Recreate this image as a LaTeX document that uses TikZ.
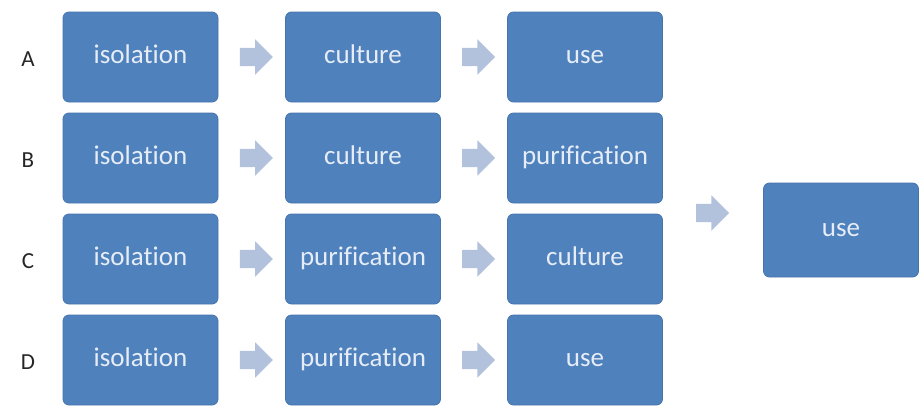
\documentclass[tikz,border=0pt]{standalone}
\usepackage{fontspec}
\setmainfont{Carlito}[Ligatures=CommonOff]
\usetikzlibrary{shapes.arrows,calc}
\definecolor{boxblue}{HTML}{4F81BD}
\definecolor{boxedge}{HTML}{4675AE}
\definecolor{arrowgray}{HTML}{B2C1DC}
\definecolor{boxtext}{HTML}{E6EDF7}
\definecolor{labeltext}{HTML}{262626}
\tikzset{
  stepbox/.style={draw=boxedge, line width=0.8pt, fill=boxblue, rounded corners=6pt,
    minimum width=155pt, minimum height=90pt, inner sep=0pt,
    text height=18pt, text depth=6pt,
    text=boxtext, font=\fontsize{27}{30}\selectfont},
  flowarrow/.style={single arrow, draw=none, fill=arrowgray, inner sep=0pt,
    minimum height=33pt, single arrow head extend=8.5pt},
  rowlabel/.style={text=labeltext, font=\fontsize{23}{26}\selectfont, inner sep=0pt}
}
\begin{document}
\begin{tikzpicture}[x=1pt,y=-1pt]
\useasboundingbox (0,0) rectangle (920,407);
% rows of the four protocols
\foreach \r/\y/\b/\c/\d in {A/57/isolation/culture/use,
                            B/158/isolation/culture/purification,
                            C/259/isolation/purification/culture,
                            D/360/isolation/purification/use}{
  \node[rowlabel] (lab\r) at (28,\y+2) {\r};
  \node[stepbox] (\r1) at (140.5,\y) {\b};
  \node[stepbox] (\r2) at (363,\y) {\c};
  \node[stepbox] (\r3) at (585,\y) {\d};
  \node[flowarrow] (\r a1) at ($(\r1.east)!0.5!(\r2.west)$) {\rule{0pt}{18pt}};
  \node[flowarrow] (\r a2) at ($(\r2.east)!0.5!(\r3.west)$) {\rule{0pt}{18pt}};
}
% common final step
\node[stepbox, minimum height=94pt] (final) at (841,230) {use};
\node[flowarrow] (finalarrow) at (708,213) {\rule{0pt}{18pt}};
\end{tikzpicture}
\end{document}
